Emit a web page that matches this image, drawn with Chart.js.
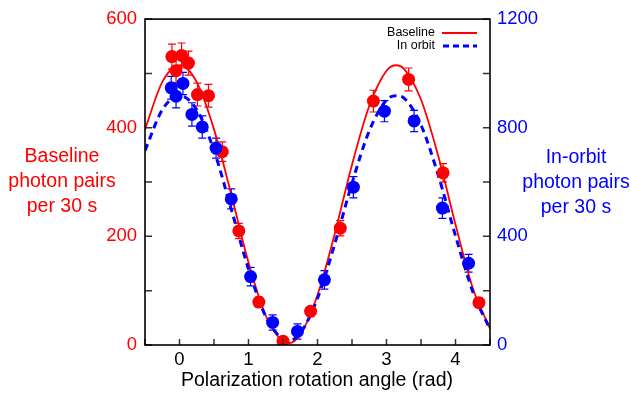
<!DOCTYPE html>
<html>
<head>
<meta charset="utf-8">
<script src="https://cdn.jsdelivr.net/npm/chart.js@4.4.1/dist/chart.umd.min.js"></script>
<style>
  html, body { margin: 0; padding: 0; background: #fff; }
  #wrap { width: 631px; height: 396px; position: relative; }
</style>
</head>
<body>
<div id="wrap"><canvas id="myChart"></canvas></div>
<script>
// measured points (x in rad)
const redX = [-0.11, -0.05, 0.03, 0.13, 0.26, 0.42, 0.62, 0.86, 1.15, 1.50, 1.90, 2.33, 2.81, 3.32, 3.82, 4.34];
const redY = [531, 505, 533, 519, 461, 459, 356, 210, 79, 7, 62, 215, 449, 489, 317, 78];
const redErr = [23, 22, 23, 22, 21, 21, 18, 14, 9, 3, 8, 14, 20, 21, 17, 9];

const blueX = [-0.12, -0.05, 0.05, 0.18, 0.33, 0.53, 0.75, 1.03, 1.35, 1.71, 2.10, 2.52, 2.97, 3.40, 3.81, 4.19];
const blueY = [947, 916, 963, 849, 803, 725, 538, 252, 83, 50, 240, 581, 861, 825, 504, 301];
const blueErr = [42, 43, 41, 43, 41, 37, 37, 34, 28, 28, 34, 39, 39, 39, 38, 33];

// fit curves
const fitX = [-0.5, -0.25, 0, 0.25, 0.5, 0.75, 1, 1.25, 1.5, 1.57, 1.75, 2, 2.25, 2.5, 2.75, 3, 3.14, 3.25, 3.5, 3.75, 4, 4.25, 4.5];
const redFit = [397, 484, 515, 484, 397, 277, 152, 54, 6, 3, 19, 92, 205, 332, 440, 505, 515, 509, 452, 348, 222, 105, 30];
const blueFit = [716, 866, 918, 866, 716, 500, 280, 105, 20, 15, 44, 172, 372, 596, 788, 902, 918, 910, 810, 625, 402, 197, 58];

const leftTitle = ["Baseline", "photon pairs", "per 30 s"];
const rightTitle = ["In-orbit", "photon pairs", "per 30 s"];
const xTitle = "Polarization rotation angle (rad)";

const RED = "#ff0000";
const BLUE = "#0000ff";
const FONT = "'Liberation Sans', Arial, sans-serif";

const pts = (xs, ys) => xs.map((x, i) => ({ x: x, y: ys[i] }));

// error bars, drawn under the points
const errorBars = {
  id: "errorBars",
  beforeDatasetsDraw(chart) {
    const c = chart.ctx;
    const xs = chart.scales.x;
    const sets = [
      [redX, redY, redErr, chart.scales.y, RED],
      [blueX, blueY, blueErr, chart.scales.y2, BLUE],
    ];
    c.save();
    c.lineWidth = 1.2;
    sets.forEach(([xv, yv, ev, ys, col]) => {
      c.strokeStyle = col;
      xv.forEach((x, i) => {
        const px = xs.getPixelForValue(x);
        const top = ys.getPixelForValue(yv[i] + ev[i]);
        const bot = ys.getPixelForValue(yv[i] - ev[i]);
        c.beginPath();
        c.moveTo(px, top); c.lineTo(px, bot);
        c.moveTo(px - 4, top); c.lineTo(px + 4, top);
        c.moveTo(px - 4, bot); c.lineTo(px + 4, bot);
        c.stroke();
      });
    });
    c.restore();
  },
};

// frame, inward ticks, titles, legend
const decor = {
  id: "decor",
  afterDraw(chart) {
    const c = chart.ctx;
    const a = chart.chartArea;
    c.save();
    // ticks
    c.strokeStyle = "#333";
    c.lineWidth = 1.5;
    c.beginPath();
    chart.scales.x.ticks.forEach((t) => {
      const px = chart.scales.x.getPixelForValue(t.value);
      c.moveTo(px, a.bottom); c.lineTo(px, a.bottom - 6);
    });
    chart.scales.y.ticks.forEach((t) => {
      const py = chart.scales.y.getPixelForValue(t.value);
      c.moveTo(a.left, py); c.lineTo(a.left + 7, py);
    });
    chart.scales.y2.ticks.forEach((t) => {
      const py = chart.scales.y2.getPixelForValue(t.value);
      c.moveTo(a.right, py); c.lineTo(a.right - 7, py);
    });
    c.stroke();
    // frame
    c.strokeStyle = "#000";
    c.lineWidth = 1.6;
    c.strokeRect(a.left, a.top, a.right - a.left, a.bottom - a.top);

    // axis titles
    c.font = "19.5px " + FONT;
    c.textAlign = "center";
    c.textBaseline = "middle";
    c.fillStyle = RED;
    leftTitle.forEach((s, i) => c.fillText(s, 62, 157 + i * 25));
    c.fillStyle = BLUE;
    rightTitle.forEach((s, i) => c.fillText(s, 576, 158 + i * 25));
    c.fillStyle = "#000";
    c.fillText(xTitle, 317, 381);

    // legend
    c.font = "12.5px " + FONT;
    c.textAlign = "right";
    c.fillText("Baseline", 435, 33);
    c.fillText("In orbit", 435, 46);
    c.lineWidth = 1.8;
    c.strokeStyle = RED;
    c.beginPath(); c.moveTo(442, 33); c.lineTo(477, 33); c.stroke();
    c.lineWidth = 3;
    c.strokeStyle = BLUE;
    c.setLineDash([6, 4]);
    c.beginPath(); c.moveTo(443, 46); c.lineTo(477, 46); c.stroke();
    c.restore();
  },
};

const ctx = document.getElementById("myChart");

new Chart(ctx, {
  type: "scatter",
  data: {
    datasets: [
      {
        label: "In orbit",
        data: pts(blueX, blueY),
        yAxisID: "y2",
        backgroundColor: BLUE,
        borderColor: BLUE,
        pointRadius: 6.5,
        borderWidth: 0,
        order: 1,
      },
      {
        label: "Baseline",
        data: pts(redX, redY),
        yAxisID: "y",
        backgroundColor: RED,
        borderColor: RED,
        pointRadius: 6.5,
        borderWidth: 0,
        order: 2,
      },
      {
        label: "In orbit fit",
        data: pts(fitX, blueFit),
        yAxisID: "y2",
        showLine: true,
        borderColor: BLUE,
        borderWidth: 3,
        borderDash: [7, 5],
        pointRadius: 0,
        cubicInterpolationMode: "monotone",
        order: 3,
      },
      {
        label: "Baseline fit",
        data: pts(fitX, redFit),
        yAxisID: "y",
        showLine: true,
        borderColor: RED,
        borderWidth: 1.8,
        pointRadius: 0,
        cubicInterpolationMode: "monotone",
        order: 4,
      },
    ],
  },
  plugins: [errorBars, decor],
  options: {
    responsive: true,
    maintainAspectRatio: false,
    animation: false,
    layout: { padding: { top: 17, left: 0, right: 0, bottom: 0 } },
    plugins: { legend: { display: false }, tooltip: { enabled: false } },
    scales: {
      x: {
        type: "linear",
        min: -0.5,
        max: 4.5,
        grid: { display: false, drawTicks: false },
        border: { display: false },
        afterFit: (s) => { s.height = 51; },
        ticks: {
          stepSize: 0.5,
          padding: 4,
          color: "#000",
          font: { size: 18.5, family: FONT },
          callback: (v) => (Number.isInteger(v) ? v : ""),
        },
      },
      y: {
        position: "left",
        min: 0,
        max: 600,
        grid: { display: false, drawTicks: false },
        border: { display: false },
        afterFit: (s) => { s.width = 145; },
        ticks: {
          stepSize: 100,
          padding: 8,
          color: RED,
          font: { size: 18.5, family: FONT },
          callback: (v) => (v % 200 === 0 ? v : ""),
        },
      },
      y2: {
        position: "right",
        min: 0,
        max: 1200,
        grid: { display: false, drawTicks: false },
        border: { display: false },
        afterFit: (s) => { s.width = 141; },
        ticks: {
          stepSize: 200,
          padding: 7,
          color: BLUE,
          font: { size: 18.5, family: FONT },
          callback: (v) => (v % 400 === 0 ? v : ""),
        },
      },
    },
  },
});
</script>
</body>
</html>
